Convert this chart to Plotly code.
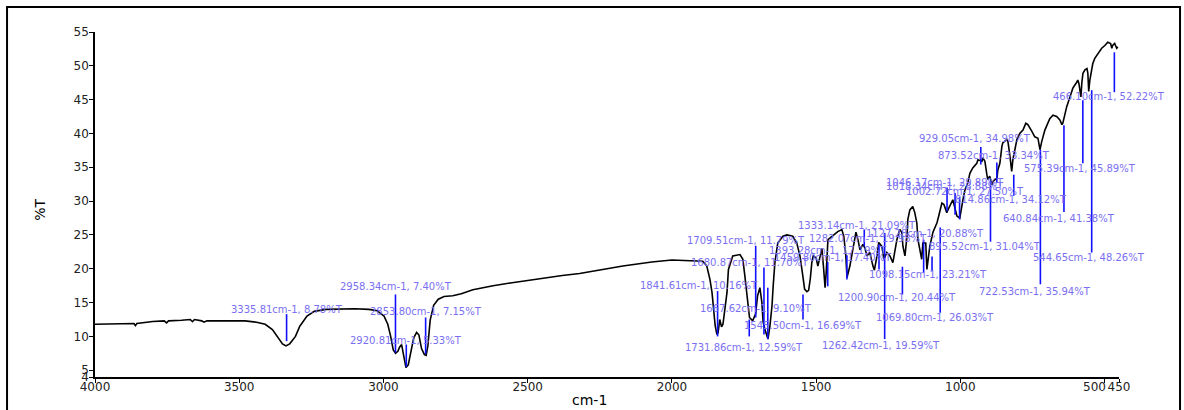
import plotly.graph_objects as go

# ---- spectrum (wavenumber cm-1, %T) ----
wavenumber = [4000, 3950, 3900, 3865, 3860, 3855, 3800, 3760, 3752, 3745, 3700, 3670, 3662, 3655, 3630, 3622, 3612,
              3550, 3480, 3440, 3410, 3385, 3365, 3350, 3338, 3325, 3305, 3290, 3265, 3240, 3200, 3100, 3050, 3022,
              2998, 2985, 2975, 2966, 2958, 2950, 2944, 2937, 2930, 2922, 2914, 2905, 2895, 2885, 2877, 2868, 2858,
              2852, 2846, 2838, 2826, 2810, 2790, 2760, 2730, 2690, 2620, 2560, 2500, 2440, 2380, 2320, 2270, 2220,
              2170, 2120, 2070, 2000, 1955, 1930, 1893, 1879, 1868, 1861, 1856, 1850, 1844, 1840, 1834, 1828, 1823,
              1816, 1809, 1804, 1789, 1764, 1754, 1747, 1740, 1731, 1720, 1710, 1703, 1695, 1688, 1684, 1678, 1667,
              1660, 1653, 1649, 1643, 1633, 1615, 1601, 1581, 1567, 1556, 1546, 1540, 1532, 1526, 1520, 1515, 1510,
              1500, 1494, 1487, 1480, 1474, 1469, 1465, 1459, 1445, 1425, 1411, 1404, 1397, 1393, 1383, 1373, 1362,
              1355, 1348, 1338, 1331, 1324, 1314, 1303, 1298, 1289, 1283, 1272, 1265, 1255, 1244, 1234, 1227, 1220,
              1210, 1203, 1199, 1192, 1185, 1182, 1175, 1165, 1158, 1151, 1147, 1140, 1134, 1130, 1120, 1116, 1106,
              1095, 1081, 1075, 1064, 1057, 1047, 1043, 1033, 1026, 1012, 1002, 991, 984, 974, 967, 957, 943, 939,
              925, 922, 915, 908, 905, 898, 891, 887, 873, 870, 863, 856, 853, 839, 835, 828, 822, 818, 811, 804,
              794, 783, 773, 766, 752, 742, 731, 724, 718, 707, 697, 690, 679, 666, 655, 648, 645, 638, 631, 620,
              610, 596, 593, 589, 582, 579, 575, 568, 561, 558, 555, 551, 544, 541, 534, 527, 517, 510, 499, 489,
              479, 475, 472, 465, 458, 454]
transmittance = [11.8, 11.8, 11.9, 11.9, 11.6, 11.9, 12.2, 12.3, 12.0, 12.3, 12.4, 12.5, 12.2, 12.5, 12.3, 12.1, 12.3,
                 12.3, 12.3, 12.1, 11.8, 11.0, 9.8, 8.9, 8.6, 8.9, 10.0, 11.5, 13.0, 13.7, 14.0, 14.1, 14.0, 13.8,
                 13.0, 11.8, 10.0, 8.0, 7.5, 7.8, 8.4, 8.8, 7.2, 5.4, 5.8, 7.5, 9.8, 10.6, 10.2, 8.2, 7.3,
                 7.2, 8.6, 12.4, 14.6, 15.5, 15.9, 16.0, 16.3, 16.9, 17.5, 17.9, 18.3, 18.6, 19.0, 19.3, 19.7, 20.0,
                 20.4, 20.7, 21.0, 21.3, 21.2, 21.1, 21.1, 20.4, 18.4, 16.5, 14.2, 11.6, 10.3, 10.5, 12.5, 11.4, 11.8,
                 14.0, 16.5, 19.9, 21.9, 22.1, 21.4, 18.9, 16.0, 12.8, 12.3, 13.3, 16.0, 17.2, 15.0, 12.2, 11.1, 9.6,
                 11.6, 14.5, 17.4, 20.9, 23.8, 24.8, 25.0, 24.8, 23.8, 21.9, 18.9, 17.0, 16.6, 16.8, 18.6, 20.9, 21.9,
                 21.6, 20.4, 21.9, 23.0, 20.0, 17.2, 19.5, 24.3, 24.8, 25.5, 25.8, 24.8, 21.9, 18.7, 20.4, 22.8, 25.4,
                 24.3, 22.8, 23.6, 23.1, 21.9, 22.4, 20.4, 19.8, 21.9, 23.9, 23.3, 21.4, 22.4, 21.9, 20.9, 22.4, 24.3,
                 25.8, 25.4, 23.3, 21.9, 24.8, 27.3, 28.7, 29.2, 28.3, 26.8, 24.3, 22.4, 21.4, 23.8, 23.8, 19.9, 23.3,
                 25.4, 26.8, 27.8, 29.7, 29.5, 28.3, 28.7, 29.7, 30.2, 27.8, 27.5, 30.2, 31.7, 32.7, 34.1, 34.9, 35.6, 36.1,
                 35.9, 36.4, 35.9, 33.9, 33.2, 33.7, 32.4, 32.9, 33.4, 34.6, 35.6, 38.1, 38.6, 39.1, 38.8, 36.6, 34.4, 36.1, 37.6, 39.1,
                 40.0, 40.5, 41.5, 41.3, 40.3, 39.5, 39.3, 37.6, 38.8, 40.5, 41.5, 42.2, 42.7, 42.5, 42.0, 41.3, 41.5, 43.0, 44.0, 45.4,
                 46.7, 47.6, 47.9, 47.4, 45.4, 47.4, 48.9, 49.4, 49.6, 48.9, 46.2, 47.9, 49.4, 50.3, 51.1, 51.6, 52.1, 52.6, 53.0, 53.5,
                 53.3, 52.6, 53.0, 53.3, 52.6, 52.8]

# ---- peak picks ----
peak_wn = [3335.81, 2958.34, 2920.81, 2853.80, 1841.61, 1731.86, 1709.51, 1680.87, 1667.62, 1545.50,
           1459.80, 1393.28, 1333.14, 1282.07, 1262.42, 1200.90, 1127.28, 1098.15, 1069.80, 1046.17,
           1018.34, 1002.72, 929.05, 895.52, 873.52, 814.86, 722.53, 640.84, 575.39, 544.65, 466.10]
peak_t = [8.78, 7.40, 5.33, 7.15, 10.16, 12.59, 11.79, 11.70, 9.10, 16.69,
          17.40, 17.19, 21.09, 19.98, 19.59, 20.44, 20.88, 23.21, 26.03, 29.89,
          28.88, 27.50, 34.98, 31.04, 33.34, 34.12, 35.94, 41.38, 45.89, 48.26, 52.22]

# label placement (centre, in axis units) and marker-line ends
label_wn = [3336, 2958, 2921, 2854, 1907, 1750, 1744, 1730, 1709, 1546,
            1442, 1459, 1359, 1321, 1276, 1220, 1123, 1113, 1089, 1054,
            1054, 985, 950, 915, 884, 825, 742, 659, 586, 555, 485]
label_t = [14.0, 17.4, 9.4, 13.7, 17.5, 8.4, 24.2, 20.9, 14.1, 11.6,
           21.7, 22.7, 26.4, 24.5, 8.7, 15.8, 25.2, 19.2, 12.8, 32.8,
           32.1, 31.4, 39.2, 23.3, 36.7, 30.2, 16.6, 27.5, 34.8, 21.7, 45.4]
line_t0 = [13.3, 16.2, 8.8, 12.8, 16.7, 12.5, 23.4, 20.2, 17.2, 16.2,
           21.0, 22.0, 25.8, 23.6, 25.3, 20.3, 24.3, 21.8, 26.1, 32.0,
           31.2, 30.6, 38.0, 33.0, 35.7, 33.9, 37.6, 41.2, 44.9, 46.4, 52.0]
line_t1 = [9.3, 7.6, 5.5, 7.4, 10.0, 10.0, 12.8, 10.3, 9.6, 12.5,
           17.4, 18.4, 23.3, 19.9, 9.6, 16.2, 19.4, 19.6, 13.5, 28.5,
           28.0, 27.3, 35.4, 24.0, 32.7, 30.8, 17.7, 28.4, 35.6, 22.4, 46.1]

x_ticks = [4000, 3500, 3000, 2500, 2000, 1500, 1000, 500, 450]
y_ticks = [4, 5, 10, 15, 20, 25, 30, 35, 40, 45, 50, 55]

fig = go.Figure()
fig.add_trace(go.Scatter(x=wavenumber, y=transmittance, mode="lines",
                         line=dict(color="black", width=1.6), hoverinfo="skip", showlegend=False))

lx, ly = [], []
for w, a, b in zip(peak_wn, line_t0, line_t1):
    lx += [w, w, None]
    ly += [a, b, None]
fig.add_trace(go.Scatter(x=lx, y=ly, mode="lines", line=dict(color="#1010ff", width=1.6),
                         hoverinfo="skip", showlegend=False))

annotations = []
for w, t, xw, yt in zip(peak_wn, peak_t, label_wn, label_t):
    annotations.append(dict(x=xw, y=yt, xref="x", yref="y", showarrow=False,
                            text=f"{w:.2f}cm-1, {t:.2f}%T",
                            font=dict(family="DejaVu Sans", size=10, color="#7a6ff2"),
                            xanchor="center", yanchor="middle"))
annotations.append(dict(x=-0.054, y=0.484, xref="paper", yref="paper", showarrow=False, text="%T",
                        textangle=-90, font=dict(family="DejaVu Sans", size=14, color="black"),
                        xanchor="center", yanchor="middle"))
annotations.append(dict(x=0.483, y=-0.067, xref="paper", yref="paper", showarrow=False, text="cm-1",
                        font=dict(family="DejaVu Sans", size=14, color="black"),
                        xanchor="center", yanchor="middle"))
# "500" tick label sits just left of its tick, next to "450"
annotations.append(dict(x=500, y=0, xref="x", yref="paper", showarrow=False, text=str(x_ticks[7]),
                        font=dict(family="DejaVu Sans", size=12, color="#222"),
                        xanchor="right", yanchor="top", xshift=3, yshift=-1))

tick_text = [str(v) for v in x_ticks]
tick_text[7] = ""

fig.update_layout(
    width=1184, height=410,
    margin=dict(l=95, r=65, t=32, b=33, autoexpand=False),
    paper_bgcolor="white", plot_bgcolor="white",
    showlegend=False,
    annotations=annotations,
    shapes=[dict(type="rect", xref="paper", yref="paper", x0=-0.0859, x1=1.0596, y0=-0.14, y1=1.0725,
                 line=dict(color="black", width=2), fillcolor="rgba(0,0,0,0)", layer="below")],
    xaxis=dict(range=[4000, 450], tickvals=x_ticks, ticktext=tick_text,
               showgrid=False, zeroline=False, showline=True, linecolor="black", linewidth=1.5,
               ticks="outside", ticklen=4, tickcolor="black", tickangle=0, automargin=False,
               ticklabelstandoff=-6,
               tickfont=dict(family="DejaVu Sans", size=12, color="#222")),
    yaxis=dict(range=[4, 55], tickvals=y_ticks, ticktext=[str(v) for v in y_ticks],
               showgrid=False, zeroline=False, showline=True, linecolor="black", linewidth=1.5,
               ticks="outside", ticklen=4, tickcolor="black", automargin=False,
               ticklabelstandoff=-2,
               tickfont=dict(family="DejaVu Sans", size=12, color="#222")),
)

# remove the page's default body margin so the 1184x410 figure fills the window exactly
fig.write_html("out.html", config={"displayModeBar": False},
               post_script="document.body.style.margin='0px';document.body.style.overflow='hidden';")
